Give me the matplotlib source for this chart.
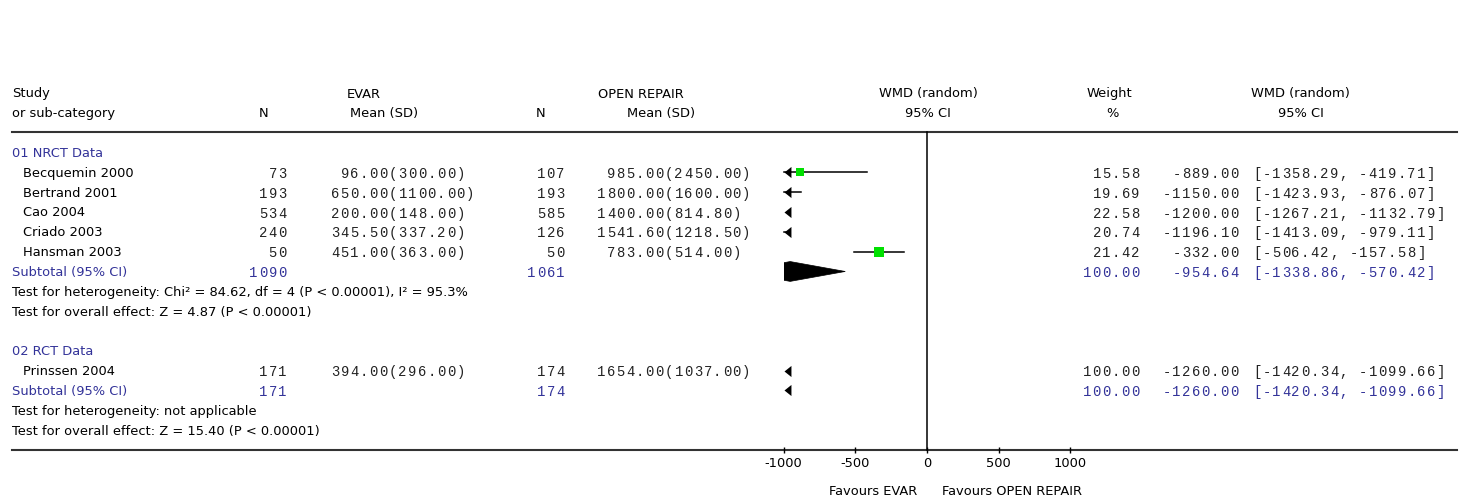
import matplotlib
matplotlib.use('Agg')
from matplotlib import pyplot as plt
from matplotlib.font_manager import FontProperties, findfont
from matplotlib.ft2font import FT2Font
from matplotlib.patches import Polygon, Rectangle
from matplotlib.path import Path
from matplotlib.transforms import blended_transform_factory

SANS = 'DejaVu Sans'
MONO = 'Liberation Mono'
MONO_SIZE = 10
BLUE = '#333399'
GREEN = '#00e000'

# 01 NRCT Data
nrct_studies = ['Becquemin 2000', 'Bertrand 2001', 'Cao 2004', 'Criado 2003', 'Hansman 2003']
nrct_evar_n = [73, 193, 534, 240, 50]
nrct_evar_mean = [96.00, 650.00, 200.00, 345.50, 451.00]
nrct_evar_sd = [300.00, 1100.00, 148.00, 337.20, 363.00]
nrct_open_n = [107, 193, 585, 126, 50]
nrct_open_mean = [985.00, 1800.00, 1400.00, 1541.60, 783.00]
nrct_open_sd = [2450.00, 1600.00, 814.80, 1218.50, 514.00]
nrct_weight = [15.58, 19.69, 22.58, 20.74, 21.42]
nrct_wmd = [-889.00, -1150.00, -1200.00, -1196.10, -332.00]
nrct_lo = [-1358.29, -1423.93, -1267.21, -1413.09, -506.42]
nrct_hi = [-419.71, -876.07, -1132.79, -979.11, -157.58]
nrct_total = {'evar_n': 1090, 'open_n': 1061, 'weight': 100.00,
              'wmd': -954.64, 'lo': -1338.86, 'hi': -570.42}
nrct_het = 'Test for heterogeneity: Chi\u00b2 = 84.62, df = 4 (P < 0.00001), I\u00b2 = 95.3%'
nrct_effect = 'Test for overall effect: Z = 4.87 (P < 0.00001)'

# 02 RCT Data
rct_studies = ['Prinssen 2004']
rct_evar_n = [171]
rct_evar_mean = [394.00]
rct_evar_sd = [296.00]
rct_open_n = [174]
rct_open_mean = [1654.00]
rct_open_sd = [1037.00]
rct_weight = [100.00]
rct_wmd = [-1260.00]
rct_lo = [-1420.34]
rct_hi = [-1099.66]
rct_total = {'evar_n': 171, 'open_n': 174, 'weight': 100.00,
             'wmd': -1260.00, 'lo': -1420.34, 'hi': -1099.66}
rct_het = 'Test for heterogeneity: not applicable'
rct_effect = 'Test for overall effect: Z = 15.40 (P < 0.00001)'

x_ticks = [-1000, -500, 0, 500, 1000]
LIMIT = 1000

W, H = 1468, 502
ZERO_PX, PX_PER_UNIT = 927, 0.1433
ROW0_PX, ROW_PX = 94, 19.83
PITCH = 9.65  # character cell of the numeric columns, wider than the font's own

fig = plt.figure(figsize=(W / 100, H / 100), dpi=100)
ax = fig.add_axes([0, 0, 1, 1])
ax.axis('off')
ax.set_xlim(-ZERO_PX / PX_PER_UNIT, (W - ZERO_PX) / PX_PER_UNIT)
ax.set_ylim((H - ROW0_PX) / ROW_PX, -ROW0_PX / ROW_PX)

# x in pixels across the figure, y in table rows
tr = blended_transform_factory(fig.transFigure, ax.transData)

# centre the font's own advance inside the wider cell
mono_font = FT2Font(findfont(FontProperties(family=MONO)), hinting_factor=1)
mono_font.set_size(MONO_SIZE, 100)
CELL_PAD = (PITCH - mono_font.load_char(ord('0')).horiAdvance / 64) / 2

# arrow head with its tip on the data point
left_arrow = Path([(0, 0), (1, 0.8), (1, -0.8), (0, 0)])
right_arrow = Path([(0, 0), (-1, 0.8), (-1, -0.8), (0, 0)])


def txt(xpx, row, s, ha='left', color='black'):
    ax.text(xpx / W, row, s, transform=tr, ha=ha, va='center', color=color,
            family=SANS, fontsize=9.4)


def mono(xpx, row, s, ha='left', color='#222222'):
    left = xpx - len(s) * PITCH if ha == 'right' else xpx
    for i, ch in enumerate(s):
        if ch == ' ':
            continue
        x = left + i * PITCH + CELL_PAD
        ax.text(x / W, row, ch, transform=tr, ha='left', va='baseline',
                color=color, family=MONO, fontsize=MONO_SIZE)


def draw_ci(row, est, lo, hi, weight):
    lo_c, hi_c = max(lo, -LIMIT), min(hi, LIMIT)
    if hi_c > lo_c:
        ax.plot([lo_c, hi_c], [row, row], color='black', lw=1.1)
    if lo < -LIMIT:
        ax.plot([-LIMIT], [row], marker=left_arrow, ms=10, color='black', mew=0)
    if hi > LIMIT:
        ax.plot([LIMIT], [row], marker=right_arrow, ms=10, color='black', mew=0)
    if -LIMIT <= est <= LIMIT:
        ax.plot([est], [row], marker='s', ms=7.2 * (weight / 21.42) ** 0.5,
                color=GREEN, mew=0, zorder=3)


def draw_total(row, est, lo, hi):
    if hi < -LIMIT or lo > LIMIT:
        draw_ci(row, est, lo, hi, 0)
        return
    diamond = Polygon([(lo, row), (est, row - 0.5), (hi, row), (est, row + 0.5)],
                      closed=True, facecolor='black', edgecolor='black', lw=0.5)
    ax.add_patch(diamond)
    clip = Rectangle((-LIMIT, row - 1), 2 * LIMIT, 2, transform=ax.transData)
    diamond.set_clip_path(clip)


def study_row(row, name, en, em, es, on, om, os_, w, est, lo, hi):
    txt(23, row, name)
    base = row + 0.23
    mono(287, base, f'{en}', ha='right')
    mono(388, base, f'{em:.2f}', ha='right')
    mono(388, base, f'({es:.2f})')
    mono(565, base, f'{on}', ha='right')
    mono(664, base, f'{om:.2f}', ha='right')
    mono(664, base, f'({os_:.2f})')
    mono(1140, base, f'{w:.2f}', ha='right')
    mono(1239, base, f'{est:.2f}', ha='right')
    mono(1252, base, f'[{lo:.2f}, {hi:.2f}]')
    draw_ci(row, est, lo, hi, w)


def group(start, title, studies, evar_n, evar_mean, evar_sd, open_n, open_mean,
          open_sd, weight, wmd, lo, hi, total, het, effect):
    txt(12, start, title, color=BLUE)
    row = start + 1
    for i, name in enumerate(studies):
        study_row(row, name, evar_n[i], evar_mean[i], evar_sd[i], open_n[i],
                  open_mean[i], open_sd[i], weight[i], wmd[i], lo[i], hi[i])
        row += 1
    txt(12, row, 'Subtotal (95% CI)', color=BLUE)
    base = row + 0.23
    mono(287, base, f"{total['evar_n']}", ha='right', color=BLUE)
    mono(565, base, f"{total['open_n']}", ha='right', color=BLUE)
    mono(1140, base, f"{total['weight']:.2f}", ha='right', color=BLUE)
    mono(1239, base, f"{total['wmd']:.2f}", ha='right', color=BLUE)
    mono(1252, base, f"[{total['lo']:.2f}, {total['hi']:.2f}]", color=BLUE)
    draw_total(row, total['wmd'], total['lo'], total['hi'])
    txt(12, row + 1, het)
    txt(12, row + 2, effect)


# column headers
txt(12, 0, 'Study')
txt(12, 1, 'or sub-category')
txt(364, 0, 'EVAR', ha='center')
txt(264, 1, 'N', ha='center')
txt(384, 1, 'Mean (SD)', ha='center')
txt(641, 0, 'OPEN REPAIR', ha='center')
txt(541, 1, 'N', ha='center')
txt(661, 1, 'Mean (SD)', ha='center')
txt(928, 0, 'WMD (random)', ha='center')
txt(928, 1, '95% CI', ha='center')
txt(1109, 0, 'Weight', ha='center')
txt(1112, 1, '%', ha='center')
txt(1300, 0, 'WMD (random)', ha='center')
txt(1301, 1, '95% CI', ha='center')

top_rule = (133 - ROW0_PX) / ROW_PX
bottom_rule = (451 - ROW0_PX) / ROW_PX
for r in (top_rule, bottom_rule):
    ax.plot([12 / W, 1457 / W], [r, r], transform=tr, color='#333333', lw=1.5)

group(3, '01 NRCT Data', nrct_studies, nrct_evar_n, nrct_evar_mean, nrct_evar_sd,
      nrct_open_n, nrct_open_mean, nrct_open_sd, nrct_weight, nrct_wmd, nrct_lo,
      nrct_hi, nrct_total, nrct_het, nrct_effect)
group(13, '02 RCT Data', rct_studies, rct_evar_n, rct_evar_mean, rct_evar_sd,
      rct_open_n, rct_open_mean, rct_open_sd, rct_weight, rct_wmd, rct_lo,
      rct_hi, rct_total, rct_het, rct_effect)

# line of no effect and the scale
ax.plot([0, 0], [top_rule, bottom_rule], color='black', lw=1.1)
ax.plot(x_ticks, [bottom_rule] * len(x_ticks), ls='none', marker='|', ms=5,
        mew=1, color='black')
tick_row = (464 - ROW0_PX) / ROW_PX
for t in x_ticks:
    ax.text(t, tick_row, f'{t}', ha='center', va='center', family=SANS, fontsize=9.4)
fav_row = (492 - ROW0_PX) / ROW_PX
txt(917, fav_row, 'Favours EVAR', ha='right')
txt(942, fav_row, 'Favours OPEN REPAIR')

fig.savefig('out.png', dpi=100, facecolor='white')
